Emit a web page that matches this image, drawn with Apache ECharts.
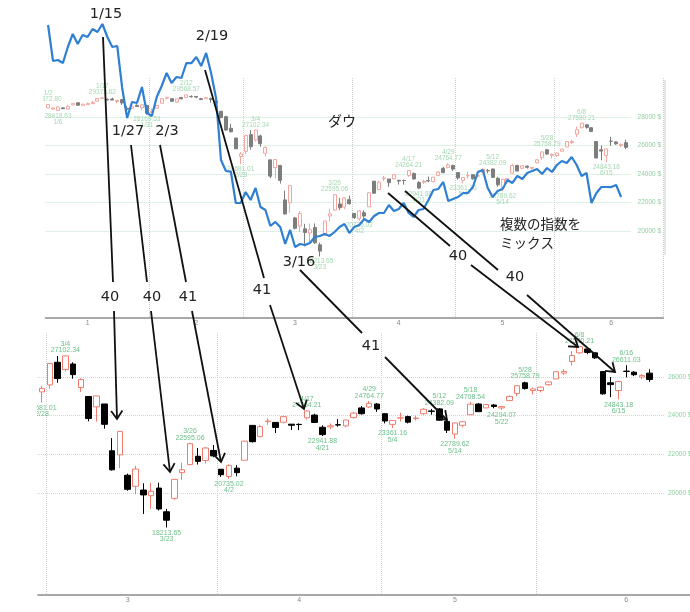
<!DOCTYPE html>
<html>
<head>
<meta charset="utf-8">
<script src="https://cdn.jsdelivr.net/npm/echarts@6/dist/echarts.min.js"></script>
<style>html,body{margin:0;padding:0;background:#fff}#main{width:690px;height:612px}</style>
</head>
<body>
<div id="main"></div>
<script>
// ダウ平均 日足 (2020/1/2 - 6/19)
const dates = [
  '1/2','1/3','1/6','1/7','1/8','1/9','1/10','1/13','1/14','1/15','1/16','1/17','1/21','1/22','1/23','1/24','1/27','1/28','1/29','1/30','1/31',
  '2/3','2/4','2/5','2/6','2/7','2/10','2/11','2/12','2/13','2/14','2/18','2/19','2/20','2/21','2/24','2/25','2/26','2/27','2/28',
  '3/2','3/3','3/4','3/5','3/6','3/9','3/10','3/11','3/12','3/13','3/16','3/17','3/18','3/19','3/20','3/23','3/24','3/25','3/26','3/27','3/30','3/31',
  '4/1','4/2','4/3','4/6','4/7','4/8','4/9','4/13','4/14','4/15','4/16','4/17','4/20','4/21','4/22','4/23','4/24','4/27','4/28','4/29','4/30',
  '5/1','5/4','5/5','5/6','5/7','5/8','5/11','5/12','5/13','5/14','5/15','5/18','5/19','5/20','5/21','5/22','5/26','5/27','5/28','5/29',
  '6/1','6/2','6/3','6/4','6/5','6/8','6/9','6/10','6/11','6/12','6/15','6/16','6/17','6/18','6/19'
];
const opens = [
  28638.97,28553.33,28465.5,28639.18,28556.14,28851.49,29000,28823.77,28867,28936,29112,29313,29226,29261,29085,29225,28614,28615,28820,28640,28813,
  28319,28626,28964,29320,29287,29048,29367,29364,29445,29440,29283,29280,29290,29099,28402,28024,27209,26526,25228,
  25590,26762,26383,26671,25457,24992,24453,24604,22184,21974,20918,20345,20150,19860,20253,19028,19722,21050,21468,21898,21678,22200,
  21227,20850,21285,21693,23497,22910,23690,23650,23660,23560,23550,23890,24030,23400,23420,23530,23470,23900,24400,24450,24600,
  24100,23550,23880,23950,23850,24100,24240,24350,23700,23050,23500,24050,24600,24400,24550,24400,24780,25150,25700,25300,
  25300,25600,25900,26200,26800,27250,27450,27250,26280,25700,25300,26300,26250,26000,26200
];
const closes = [
  28868.8,28634.88,28703.38,28583.68,28745.09,28956.9,28823.77,28907.05,28939.67,29030.22,29297.64,29348.1,29196.04,29186.27,29160.09,28989.73,28535.8,28722.85,28734.45,28859.44,28256.03,
  28399.81,28807.63,29290.85,29379.77,29102.51,29276.82,29276.34,29551.42,29423.31,29398.08,29232.19,29348.03,29219.98,28992.41,27960.8,27081.36,26957.59,25766.64,25409.36,
  26703.32,25917.41,27090.86,26121.28,25864.78,23851.02,25018.16,23553.22,21200.62,23185.62,20188.52,21237.38,19898.92,20087.19,19173.98,18591.93,20704.91,21200.55,22552.17,21636.78,22327.48,21917.16,
  20943.51,21413.44,21052.53,22679.99,22653.86,23433.57,23719.37,23390.77,23949.76,23504.35,23537.68,24242.49,23650.44,23018.88,23475.82,23515.26,23775.27,24133.78,24101.55,24633.86,24345.72,
  23723.69,23749.76,23883.09,23664.64,23875.89,24331.32,24221.99,23764.78,23247.97,23625.34,23685.42,24597.37,24206.86,24575.9,24474.12,24465.16,24995.11,25548.27,25400.64,25383.11,
  25475.02,25742.65,26269.89,26281.82,27110.98,27572.44,27272.3,26989.99,25128.17,25605.54,25763.16,26289.98,26119.61,26080.1,25871.46
];
const lows = [
  28627.77,28500.36,28418.63,28565.28,28522.51,28829,28789.09,28767.91,28867,28936,29112,29258,29167,29186,28960,28854,28512,28539,28718,28480,28169.53,
  28319,28626,28964,29234,29067,29008,29242,29364,29368,29315,29180,29280,29004,28837,27898,27025,26926,25766,24681.01,
  25391,25706,26286,25913,25226,23706,23690,23328,21154,21285,20116,19939,18917,19177,19094,18213.65,19649,20677,21427,21469,21522,21850,
  20836,20735.02,20863,21693,22613,22900,23530,23100,23600,23260,23250,23800,23620,22941.88,23300,23430,23400,23850,24050,24400,24200,
  23600,23361.16,23700,23600,23750,24050,24050,23750,23100,22789.62,23400,24050,24200,24400,24380,24294.07,24750,25000,25350,25100,
  25200,25550,25900,26100,26600,27200,27180,26940,25082,24960,24843.18,25980,26050,25880,25750
];
const highs = [
  28872.8,28716.31,28708.02,28685.5,28866.18,28958.03,29009.07,28909,29005,29130,29298,29373.62,29305,29349,29199,29254,28789,28769,28892,28879,28813,
  28592,28859,29301,29408,29287,29277,29416,29568.57,29522,29440,29343,29406,29371,29113,28402,28086,27517,26526,25540,
  26706,27084,27102.34,26759,25940,24993,25020,24604,22838,23186,21000,21400,20500,20531,20531,19177,20705,21565,22595.06,22327,22378,22480,
  21227,21480,21447,22697,23500,23524,23860,23650,24000,23560,23600,24264.21,24100,23500,23600,23820,23800,24200,24500,24764.77,24650,
  24100,23760,24150,24000,24000,24400,24350,24382.09,23800,23640,23700,24708.54,24650,24600,24600,24500,25050,25570,25758.79,25450,
  25500,25750,26300,26400,27340,27580.21,27480,27260,26280,26000,25800,26611.03,26300,26150,26400
];
// 6月末までの軸の残り
const extraDates = ['6/22','6/23','6/24','6/25','6/26','6/29','6/30'];

// 青線 (別の指数、目盛なし)
const blueLine = [
  24066,22836,22870,22768,23314,23758,23417,23724,23656,23929,
  23827,24100,23656,23314,23348,21914,20889,21436,21401,21948,
  21060,20957,21606,21982,22426,22085,22290,22255,22768,22760,
  22973,22665,23109,22426,21572,19454,19078,19060,17985,17990,
  18361,18088,18498,17849,17746,17200,17337,17166,16586,17064,
  16482,16586,16550,16620,16825,16859,16927,16859,16995,17166,
  17268,16961,17166,17234,17439,17337,17541,17644,17644,17917,
  17712,17780,17985,17644,17507,17746,17780,18088,18430,18464,
  18703,18054,18122,18190,18327,18327,18532,19044,19113,18498,
  18190,18395,18464,18771,18669,18908,18805,19010,19078,19147,
  18976,19181,19044,19283,19420,19352,19557,19283,18908,19010,
  17985,18327,18532,18532,18530,18600,18190
];

const topHighDates = ['1/2','1/17','2/12','3/4','3/26','4/17','4/29','5/12','5/28','6/8'];
const topLowDates = ['1/6','1/31','2/28','3/23','4/2','4/21','5/4','5/14','6/15'];
const bottomHighDates = ['3/4','3/26','4/17','4/29','5/12','5/18','5/28','6/8','6/16'];
const bottomLowDates = ['2/28','3/23','4/2','4/21','5/4','5/14','5/22','6/15'];

const topMonthLabels = ['1/14','2/14','3/16','4/15','5/14','6/16'];
const bottomMonthLabels = ['3/16','4/16','5/14','6/16'];

const axisDates = dates.concat(extraDates);
const bottomStart = dates.indexOf('2/28');
const bottomDates = axisDates.slice(bottomStart);

const ohlc = dates.map((d, i) => [opens[i], closes[i], lows[i], highs[i]]);

function toDate(s) {
  const p = s.split('/');
  return new Date(2020, Number(p[0]) - 1, Number(p[1]));
}
function monthStart(list) {
  return (i) => i > 0 && toDate(list[i]).getMonth() !== toDate(list[i - 1]).getMonth();
}
function weekStart(list) {
  return (i) => i > 0 && toDate(list[i]).getDay() <= toDate(list[i - 1]).getDay() &&
    toDate(list[i]).getMonth() === toDate(list[i - 1]).getMonth();
}

function marks(highDates, lowDates, color, size) {
  const out = [];
  highDates.forEach(d => {
    const i = dates.indexOf(d);
    out.push({ coord: [d, highs[i]], label: { position: 'top', formatter: d + '\n' + highs[i].toFixed(2) } });
  });
  lowDates.forEach(d => {
    const i = dates.indexOf(d);
    out.push({ coord: [d, lows[i]], label: { position: 'bottom', formatter: lows[i].toFixed(2) + '\n' + d } });
  });
  return {
    symbol: 'circle', symbolSize: 0, silent: true, animation: false,
    label: { show: true, color: color, fontSize: size, lineHeight: size - 0.5, distance: 2, fontFamily: 'Liberation Sans' },
    data: out
  };
}

function mainX(grid, list, labels) {
  return {
    type: 'category', gridIndex: grid, data: list, position: 'bottom', boundaryGap: true,
    axisLine: { lineStyle: { color: '#a8a8a8', width: 2 } },
    axisTick: { interval: monthStart(list), length: 6, lineStyle: { color: '#999', width: 1.5 } },
    axisLabel: { interval: (i, v) => labels.includes(v), formatter: v => v.split('/')[0],
      color: '#888', fontSize: 7, margin: 2, fontFamily: 'Liberation Sans' },
    splitLine: { show: true, interval: monthStart(list), lineStyle: { type: 'dotted', color: '#cfcfcf' } }
  };
}
function weekX(grid, list) {
  return {
    type: 'category', gridIndex: grid, data: list, position: 'bottom', boundaryGap: true,
    axisLine: { show: false }, axisLabel: { show: false }, splitLine: { show: false },
    axisTick: { interval: weekStart(list), length: 2, lineStyle: { color: '#f08a80', width: 1.5 } }
  };
}
function levelY(grid, min, max, margin) {
  return {
    type: 'value', gridIndex: grid, position: 'right', min: min, max: max, interval: 2000,
    axisLine: { show: false }, axisTick: { show: false },
    axisLabel: { formatter: v => v + ' $', color: '#8fcf9f', fontSize: 6.5, margin: margin, fontFamily: 'Liberation Sans' },
    splitLine: { lineStyle: { type: 'dotted', color: '#bfe2cb' } }
  };
}

// 注釈の線と文字 (画面座標)
const lines = [
  [103, 37, 113, 282, 0], [114, 311, 117, 419, 1],
  [131, 145, 147, 282, 0], [151, 311, 170, 472, 1],
  [160, 145, 186, 282, 0], [192, 311, 221, 462, 1],
  [205, 70, 264, 278, 0], [270, 305, 304, 409, 1],
  [300, 270, 362, 333, 0], [385, 357, 447, 420, 1],
  [388, 193, 450, 246, 0], [471, 265, 578, 347, 1],
  [405, 191, 498, 270, 0], [527, 295, 615, 372, 1]
];
const notes = [
  ['1/15', 106, 14], ['2/19', 212, 36], ['1/27', 128, 131], ['2/3', 167, 131], ['3/16', 299, 262],
  ['40', 110, 297], ['40', 152, 297], ['41', 188, 297], ['41', 262, 290], ['41', 371, 346],
  ['40', 458, 256], ['40', 515, 277]
];

const graphics = [
  { type: 'rect', shape: { x: 0, y: 80, width: 43, height: 35 }, style: { fill: '#fff' }, z: 50 },
  { type: 'rect', shape: { x: 0, y: 340, width: 37, height: 80 }, style: { fill: '#fff' }, z: 50 },
  { type: 'rect', shape: { x: 664, y: 80, width: 2, height: 175 }, style: { fill: '#e6e6e6' }, z: 50 }
];
lines.forEach(l => {
  graphics.push({ type: 'line', shape: { x1: l[0], y1: l[1], x2: l[2], y2: l[3] },
    style: { stroke: '#111', lineWidth: 1.8 }, z: 100 });
  if (l[4]) {
    const a = Math.atan2(l[3] - l[1], l[2] - l[0]);
    const len = 10;
    const p1 = [l[2] - len * Math.cos(a - 0.6), l[3] - len * Math.sin(a - 0.6)];
    const p2 = [l[2] - len * Math.cos(a + 0.6), l[3] - len * Math.sin(a + 0.6)];
    graphics.push({ type: 'polyline', shape: { points: [p1, [l[2], l[3]], p2] },
      style: { stroke: '#111', lineWidth: 1.8, fill: null }, z: 100 });
  }
});
notes.forEach(n => {
  graphics.push({ type: 'text', x: n[1], y: n[2], z: 100,
    style: { text: n[0], fill: '#222', font: '14.5px "DejaVu Sans"', align: 'center', verticalAlign: 'middle',
      textAlign: 'center', textVerticalAlign: 'middle' } });
});
graphics.push({ type: 'text', x: 342, y: 121, z: 100,
  style: { text: 'ダウ', fill: '#222', font: '14px "Noto Sans CJK JP"', align: 'center', verticalAlign: 'middle',
    textAlign: 'center', textVerticalAlign: 'middle' } });
graphics.push({ type: 'text', x: 500, y: 224, z: 100,
  style: { text: '複数の指数を', fill: '#222', font: '13.5px "Noto Sans CJK JP"', align: 'left', verticalAlign: 'middle',
    textAlign: 'left', textVerticalAlign: 'middle' } });
graphics.push({ type: 'text', x: 500, y: 243, z: 100,
  style: { text: 'ミックス', fill: '#222', font: '13.5px "Noto Sans CJK JP"', align: 'left', verticalAlign: 'middle',
    textAlign: 'left', textVerticalAlign: 'middle' } });

const chart = echarts.init(document.getElementById('main'));
chart.setOption({
  animation: false,
  backgroundColor: '#fff',
  grid: [
    { left: 45.6, top: 78, width: 617.5, height: 240, containLabel: false, outerBoundsMode: 'none' },
    { left: 38.1, top: 333, width: 670, height: 262, containLabel: false, outerBoundsMode: 'none' },
    { left: 45.6, top: 117, width: 585, height: 114, containLabel: false, outerBoundsMode: 'none' },
    { left: 37, top: 377, width: 628, height: 116, containLabel: false, outerBoundsMode: 'none' }
  ],
  xAxis: [
    mainX(0, axisDates, topMonthLabels),
    weekX(0, axisDates),
    mainX(1, bottomDates, bottomMonthLabels),
    weekX(1, bottomDates),
    { type: 'value', gridIndex: 2, show: false, min: 0, max: 1 },
    { type: 'value', gridIndex: 3, show: false, min: 0, max: 1 }
  ],
  yAxis: [
    { type: 'value', gridIndex: 0, show: false, min: 13895, max: 30737, splitLine: { show: false } },
    { type: 'value', gridIndex: 0, show: false, min: 14057, max: 22255, splitLine: { show: false } },
    { type: 'value', gridIndex: 1, show: false, min: 14722, max: 28276, splitLine: { show: false } },
    levelY(2, 20000, 28000, 7),
    levelY(3, 20000, 26000, 3)
  ],
  graphic: graphics,
  series: [
    {
      type: 'candlestick', name: 'ダウ', xAxisIndex: 0, yAxisIndex: 0, data: ohlc, barWidth: 3.5,
      itemStyle: { color: '#fff', color0: '#7d7d7d', borderColor: '#f4a59d', borderColor0: '#7d7d7d', borderWidth: 1 },
      markPoint: marks(topHighDates, topLowDates, '#a3d8b2', 6.5)
    },
    {
      type: 'line', xAxisIndex: 0, yAxisIndex: 1, data: blueLine, symbol: 'none', clip: false, z: 5,
      lineStyle: { color: '#2f7fd3', width: 2.2 }
    },
    {
      type: 'candlestick', name: 'ダウ', xAxisIndex: 2, yAxisIndex: 2, data: ohlc.slice(bottomStart), barWidth: 6,
      itemStyle: { color: '#fff', color0: '#000', borderColor: '#f27d6e', borderColor0: '#000', borderWidth: 1 },
      markPoint: marks(bottomHighDates, bottomLowDates, '#6cc08a', 7)
    }
  ]
});
</script>
</body>
</html>
